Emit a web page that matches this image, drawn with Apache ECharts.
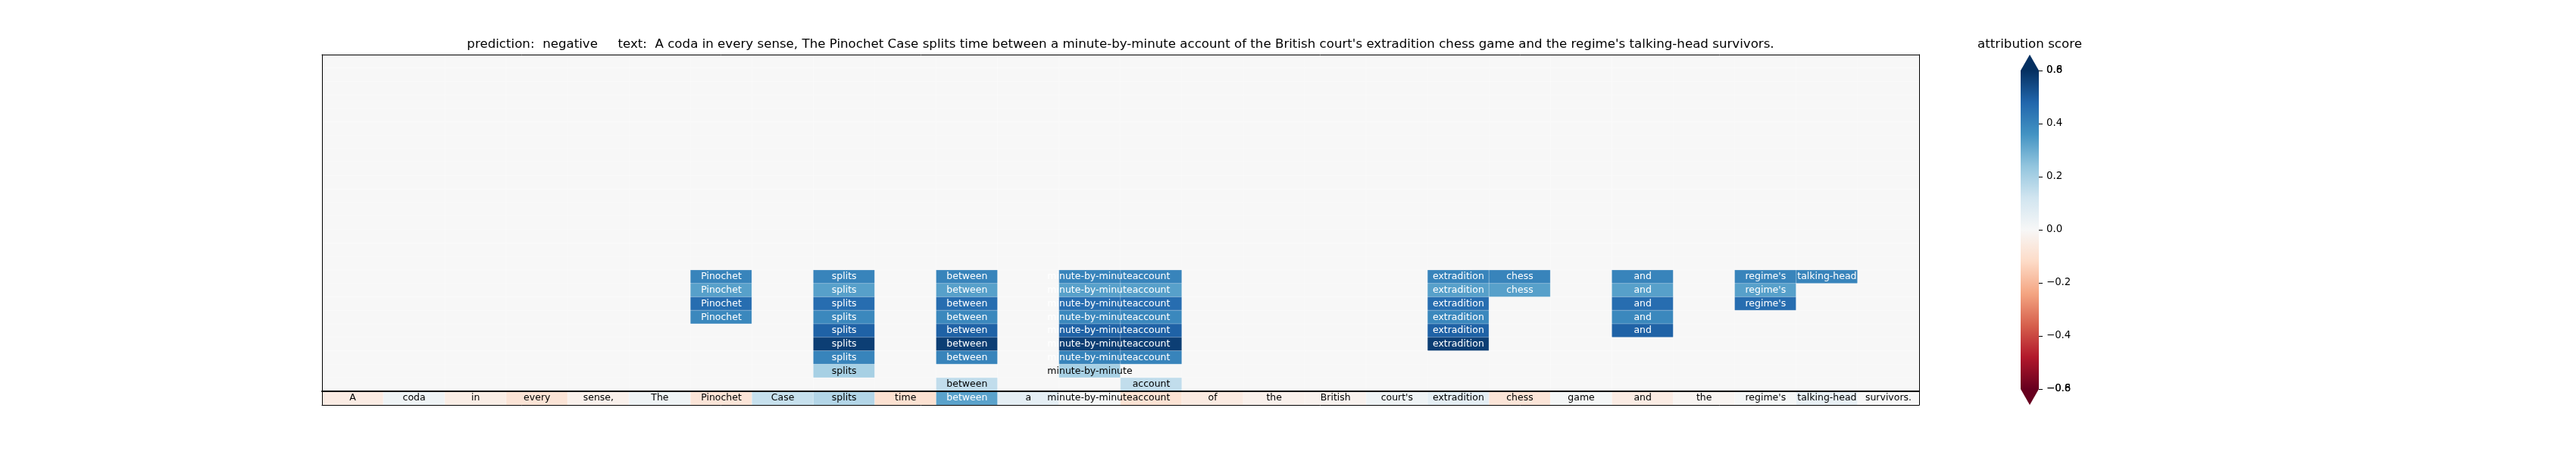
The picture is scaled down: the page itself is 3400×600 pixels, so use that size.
<!DOCTYPE html>
<html>
<head>
<meta charset="utf-8">
<script src="https://cdn.jsdelivr.net/npm/echarts@6/dist/echarts.min.js"></script>
<style>
html,body{margin:0;padding:0;background:#ffffff;}
#chart{width:3400px;height:600px;}
</style>
</head>
<body>
<div id="chart"></div>
<script>
// ---------------- data ----------------
const tokens = ["A","coda","in","every","sense,","The","Pinochet","Case","splits","time","between","a",
  "minute-by-minute","account","of","the","British","court's","extradition","chess","game","and","the",
  "regime's","talking-head","survivors."];

// attribution score of each token (bottom row)
const tokenScores = [-0.05, 0.03, -0.045, -0.085, -0.03, 0.03, -0.08, 0.14, 0.18, -0.095, 0.325, 0.06,
  0.01, -0.09, -0.055, -0.03, -0.025, 0.03, 0.06, -0.08, 0.01, -0.05, -0.015, 0.01, 0.05, 0.0];

// upper matrix: 25 rows, rows 0..15 empty, rows 16..24 hold these steps
const upperRowCount = 25;
const firstFilledRow = 16;
const stepValues  = [0.40, 0.33, 0.46, 0.39, 0.49, 0.57, 0.40, 0.20, 0.15];
const stepColumns = [
  [6, 8, 10, 12, 13, 18, 19, 21, 23, 24],
  [6, 8, 10, 12, 13, 18, 19, 21, 23],
  [6, 8, 10, 12, 13, 18, 21, 23],
  [6, 8, 10, 12, 13, 18, 21],
  [8, 10, 12, 13, 18, 21],
  [8, 10, 12, 13, 18],
  [8, 10, 12, 13],
  [8, 12],
  [10, 13]
];

// colour bar
const cbMin = -0.6, cbMax = 0.6, cbStep = 0.2;
const cbEndLabels = ["\u22120.8", "0.8"];
const titleText = "prediction:  negative     text:  A coda in every sense, The Pinochet Case splits time between a minute-by-minute account of the British court's extradition chess game and the regime's talking-head survivors.";
const cbTitle = "attribution score";

// RdBu colormap
const RdBu = ["#67001f","#b2182b","#d6604d","#f4a582","#fddbc7","#f7f7f7","#d1e5f0","#92c5de","#4393c3","#2166ac","#053061"];

// ---------------- build ----------------
const FONT = "DejaVu Sans";
const textColor = v => Math.abs(v) > 0.25 ? "#ffffff" : "#000000";
const colIdx = tokens.map((t, i) => String(i));
const rowIdx = Array.from({length: upperRowCount}, (_, i) => String(i));

const dataUpper = [];
for (let r = 0; r < upperRowCount; r++) {
  const k = r - firstFilledRow;
  for (let c = 0; c < tokens.length; c++) {
    const v = (k >= 0 && stepColumns[k].includes(c)) ? stepValues[k] : 0;
    dataUpper.push({value: [c, r, v], label: {show: v !== 0, color: textColor(v)}});
  }
}
const dataTokens = tokens.map((t, c) => ({
  value: [c, 0, tokenScores[c]], label: {show: true, color: textColor(tokenScores[c])}
}));

const chart = echarts.init(document.getElementById("chart"));

const plotLeft = 425, plotWidth = 2108, plotTop = 72, upperH = 444, tokH = 18;
const frame = {show: true, lineStyle: {color: "#000", width: 1}};
const hiddenParts = {axisTick: {show: false}, axisLabel: {show: false}, splitLine: {show: false}};

const cbGradStops = RdBu.slice().reverse().map((c, i) => ({offset: i / (RdBu.length - 1), color: c}));
const fmtTick = v => {
  const r = Math.round(v * 10) / 10;
  return (r < 0 ? "\u2212" : "") + Math.abs(r).toFixed(1);
};

chart.setOption({
  animation: false,
  backgroundColor: "#ffffff",
  textStyle: {fontFamily: FONT},
  graphic: [
    {type: "text", x: plotLeft + plotWidth / 2, y: 59,
     style: {text: titleText, fill: "#000", font: "16.67px 'DejaVu Sans'", align: "center", verticalAlign: "middle"}},
    {type: "text", x: 2679, y: 59,
     style: {text: cbTitle, fill: "#000", font: "16.67px 'DejaVu Sans'", align: "center", verticalAlign: "middle"}}
  ],
  grid: [
    {left: plotLeft, top: plotTop, width: plotWidth, height: upperH},
    {left: plotLeft, top: plotTop + upperH, width: plotWidth, height: tokH},
    {left: 2667, top: 93, width: 24, height: 420}
  ],
  xAxis: [
    Object.assign({gridIndex: 0, type: "category", data: colIdx, position: "top", axisLine: frame, z: 10}, hiddenParts),
    Object.assign({gridIndex: 1, type: "category", data: colIdx, position: "top",
      axisLine: {show: true, lineStyle: {color: "#000", width: 2}}, z: 10}, hiddenParts),
    Object.assign({gridIndex: 1, type: "category", data: colIdx, position: "bottom", axisLine: frame, z: 10}, hiddenParts),
    {gridIndex: 2, type: "category", data: ["cb"], show: false}
  ],
  yAxis: [
    Object.assign({gridIndex: 0, type: "category", data: rowIdx, inverse: true, position: "left", axisLine: frame, z: 10}, hiddenParts),
    Object.assign({gridIndex: 0, type: "category", data: rowIdx, inverse: true, position: "right", axisLine: frame, z: 10}, hiddenParts),
    Object.assign({gridIndex: 1, type: "category", data: ["tokens"], position: "left", axisLine: frame, z: 10}, hiddenParts),
    Object.assign({gridIndex: 1, type: "category", data: ["tokens"], position: "right", axisLine: frame, z: 10}, hiddenParts),
    {gridIndex: 2, type: "value", min: cbMin, max: cbMax, interval: cbStep, position: "right",
     axisLine: {show: false}, splitLine: {show: false},
     axisTick: {show: true, length: 5, lineStyle: {color: "#000", width: 1}},
     axisLabel: {show: true, margin: 10, color: "#000", fontSize: 13.3, fontFamily: FONT, formatter: fmtTick}},
    {gridIndex: 2, type: "value", min: cbMin, max: cbMax, interval: cbStep, position: "right",
     axisLine: {show: false}, splitLine: {show: false}, axisTick: {show: false},
     axisLabel: {show: true, margin: 10, color: "#000", fontSize: 13.3, fontFamily: FONT,
       formatter: v => {
         const r = Math.round(v * 10) / 10;
         if (r === cbMax) return cbEndLabels[1];
         if (r === cbMin) return cbEndLabels[0];
         return "";
       }}}
  ],
  visualMap: {
    type: "continuous", show: false, min: cbMin, max: cbMax, seriesIndex: [0, 1], dimension: 2,
    inRange: {color: RdBu}
  },
  series: [
    {
      type: "heatmap", xAxisIndex: 0, yAxisIndex: 0, data: dataUpper,
      itemStyle: {borderColor: "rgba(255,255,255,0.3)", borderWidth: 1},
      label: {show: true, fontFamily: FONT, fontSize: 12.5, formatter: p => tokens[p.value[0]]},
      emphasis: {disabled: true}
    },
    {
      type: "heatmap", xAxisIndex: 1, yAxisIndex: 2, data: dataTokens,
      itemStyle: {borderColor: "rgba(255,255,255,0.3)", borderWidth: 1},
      label: {show: true, fontFamily: FONT, fontSize: 12.5, formatter: p => tokens[p.value[0]]},
      emphasis: {disabled: true}
    },
    {
      type: "custom", xAxisIndex: 3, yAxisIndex: 4, data: [[0, 0]], silent: true,
      renderItem: (params, api) => {
        const cs = params.coordSys;
        const yTop = api.coord([0, cbMax])[1];
        const yBot = api.coord([0, cbMin])[1];
        const ext = (yBot - yTop) * 0.05;
        return {type: "group", children: [
          {type: "rect", shape: {x: cs.x, y: yTop, width: cs.width, height: yBot - yTop},
           style: {fill: new echarts.graphic.LinearGradient(0, 0, 0, 1, cbGradStops)}},
          {type: "polygon", shape: {points: [[cs.x, yTop], [cs.x + cs.width, yTop], [cs.x + cs.width / 2, yTop - ext]]},
           style: {fill: RdBu[RdBu.length - 1]}},
          {type: "polygon", shape: {points: [[cs.x, yBot], [cs.x + cs.width, yBot], [cs.x + cs.width / 2, yBot + ext]]},
           style: {fill: RdBu[0]}}
        ]};
      }
    }
  ]
});
</script>
</body>
</html>
